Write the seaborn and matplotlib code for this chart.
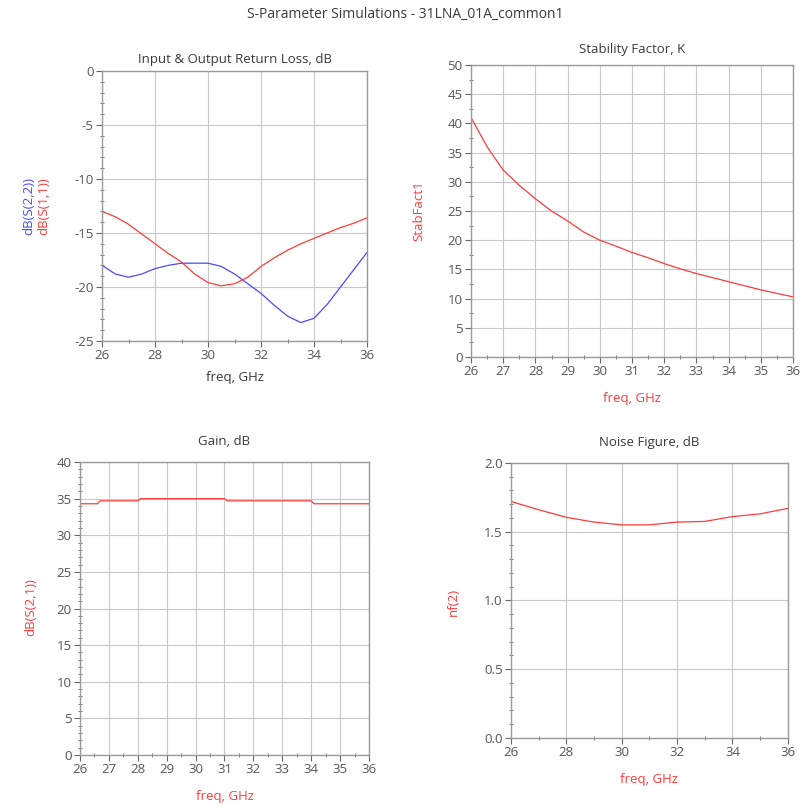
import numpy as np
import pandas as pd
import matplotlib
matplotlib.use("Agg")
import matplotlib.pyplot as plt
from matplotlib.ticker import MultipleLocator, FormatStrFormatter
import seaborn as sns

# Return loss (dB) vs frequency
rl_freq = [26, 26.5, 27, 27.5, 28, 28.5, 29, 29.5, 30, 30.5, 31, 31.5, 32, 32.5, 33, 33.5, 34, 34.5, 35, 35.5, 36]
s11_db = [-13.0, -13.5, -14.2, -15.1, -16.0, -16.9, -17.7, -18.8, -19.6, -19.9, -19.7, -19.1, -18.1, -17.3, -16.6, -16.0, -15.5, -15.0, -14.5, -14.1, -13.6]
s22_db = [-18.0, -18.8, -19.1, -18.8, -18.3, -18.0, -17.8, -17.8, -17.8, -18.1, -18.8, -19.7, -20.6, -21.7, -22.7, -23.3, -22.9, -21.6, -20.0, -18.4, -16.8]

# Stability factor K
k_freq = [26, 26.5, 27, 27.5, 28, 28.5, 29, 29.5, 30, 30.5, 31, 31.5, 32, 32.5, 33, 33.5, 34, 34.5, 35, 35.5, 36]
stab_fact = [41.0, 36.0, 32.0, 29.4, 27.1, 25.0, 23.3, 21.4, 20.0, 19.0, 17.9, 17.0, 16.0, 15.1, 14.3, 13.6, 12.9, 12.2, 11.5, 10.9, 10.3]

# Gain (dB)
g_freq = [26, 26.6, 26.7, 27, 28, 28.1, 29, 30, 31, 31.1, 32, 33, 34, 34.1, 35, 36]
gain_db = [34.3, 34.3, 34.7, 34.7, 34.7, 35.0, 35.0, 35.0, 35.0, 34.7, 34.7, 34.7, 34.7, 34.3, 34.3, 34.3]

# Noise figure (dB)
nf_freq = [26, 27, 28, 29, 30, 31, 32, 33, 34, 35, 36]
nf_db = [1.72, 1.66, 1.605, 1.57, 1.55, 1.55, 1.57, 1.575, 1.61, 1.63, 1.67]

sns.set_theme(style="whitegrid")
plt.rcParams["font.family"] = ["Open Sans", "DejaVu Sans"]
plt.rcParams["axes.unicode_minus"] = False

RED = "#ff3a3a"
BLUE = "#4a4aff"
TXT = "#3a3a3a"
GRID = "#c8c8c8"
SPINE = "#9a9a9a"
FS = 9.5

fig = plt.figure(figsize=(8.11, 8.07), dpi=100)
fig.patch.set_facecolor("white")


def px(x, y):
    return x / 811, 1 - y / 807


def style_axes(ax, xlim, ylim, xmaj, xmin, ymaj, ymin):
    ax.set_xlim(*xlim)
    ax.set_ylim(*ylim)
    ax.xaxis.set_major_locator(MultipleLocator(xmaj))
    ax.xaxis.set_minor_locator(MultipleLocator(xmin))
    ax.yaxis.set_major_locator(MultipleLocator(ymaj))
    ax.yaxis.set_minor_locator(MultipleLocator(ymin))
    ax.grid(True, which="major", color=GRID, linewidth=0.8)
    ax.grid(False, which="minor")
    for sp in ax.spines.values():
        sp.set_color(SPINE)
        sp.set_linewidth(1.0)
    ax.tick_params(axis="both", which="major", direction="out", length=4, width=0.8,
                   color="#666666", labelsize=FS, labelcolor="#555555", pad=2,
                   bottom=True, left=True)
    ax.tick_params(axis="both", which="minor", direction="inout", length=3, width=0.6,
                   color="#666666", bottom=True, left=True)
    ax.set_facecolor("white")
    ax.set_ylabel("")


# Input & Output Return Loss
ax1 = fig.add_axes([0.1258, 0.5775, 0.3268, 0.3346])
df_rl = pd.DataFrame({"freq": rl_freq, "s11": s11_db, "s22": s22_db})
sns.lineplot(data=df_rl, x="freq", y="s22", ax=ax1, color=BLUE, linewidth=0.9)
sns.lineplot(data=df_rl, x="freq", y="s11", ax=ax1, color=RED, linewidth=0.9)
style_axes(ax1, (26, 36), (-25, 0), 2, 1, 5, 1)
ax1.set_title("Input & Output Return Loss, dB", fontsize=FS, color=TXT, pad=6)
ax1.set_xlabel("freq, GHz", fontsize=FS, color=TXT, labelpad=6)
fig.text(*px(29, 206), "dB(S(2,2))", rotation=90, color=BLUE,
         fontsize=FS, ha="center", va="center")
fig.text(*px(44, 206), "dB(S(1,1))", rotation=90, color=RED,
         fontsize=FS, ha="center", va="center")

# Stability Factor
ax2 = fig.add_axes([0.5808, 0.5576, 0.397, 0.3618])
df_k = pd.DataFrame({"freq": k_freq, "k": stab_fact})
sns.lineplot(data=df_k, x="freq", y="k", ax=ax2, color=RED, linewidth=0.9)
style_axes(ax2, (26, 36), (0, 50), 1, 0.5, 5, 2.5)
ax2.set_title("Stability Factor, K", fontsize=FS, color=TXT, pad=9)
ax2.set_xlabel("freq, GHz", fontsize=FS, color=RED, labelpad=10)
fig.text(*px(419, 211), "StabFact1", rotation=90, color=RED,
         fontsize=FS, ha="center", va="center")

# Gain
ax3 = fig.add_axes([0.0986, 0.0644, 0.3564, 0.3631])
df_g = pd.DataFrame({"freq": g_freq, "gain": gain_db})
sns.lineplot(data=df_g, x="freq", y="gain", ax=ax3, color=RED, linewidth=0.9)
style_axes(ax3, (26, 36), (0, 40), 1, 0.5, 5, 1)
ax3.set_title("Gain, dB", fontsize=FS, color=TXT, pad=12)
ax3.set_xlabel("freq, GHz", fontsize=FS, color=RED, labelpad=10)
fig.text(*px(31, 607), "dB(S(2,1))", rotation=90, color=RED,
         fontsize=FS, ha="center", va="center")

# Noise Figure
ax4 = fig.add_axes([0.630, 0.0855, 0.3415, 0.3408])
df_nf = pd.DataFrame({"freq": nf_freq, "nf": nf_db})
sns.lineplot(data=df_nf, x="freq", y="nf", ax=ax4, color=RED, linewidth=0.9)
style_axes(ax4, (26, 36), (0, 2.0), 2, 1, 0.5, 0.1)
ax4.yaxis.set_major_formatter(FormatStrFormatter("%.1f"))
ax4.set_title("Noise Figure, dB", fontsize=FS, color=TXT, pad=12)
ax4.set_xlabel("freq, GHz", fontsize=FS, color=RED, labelpad=10)
fig.text(*px(453, 602), "nf(2)", rotation=90, color=RED,
         fontsize=FS, ha="center", va="center")

fig.suptitle("S-Parameter Simulations - 31LNA_01A_common1", fontsize=10,
             color=TXT, y=1 - 14 / 807, va="center")

fig.savefig("out.png", dpi=100, facecolor="white")
